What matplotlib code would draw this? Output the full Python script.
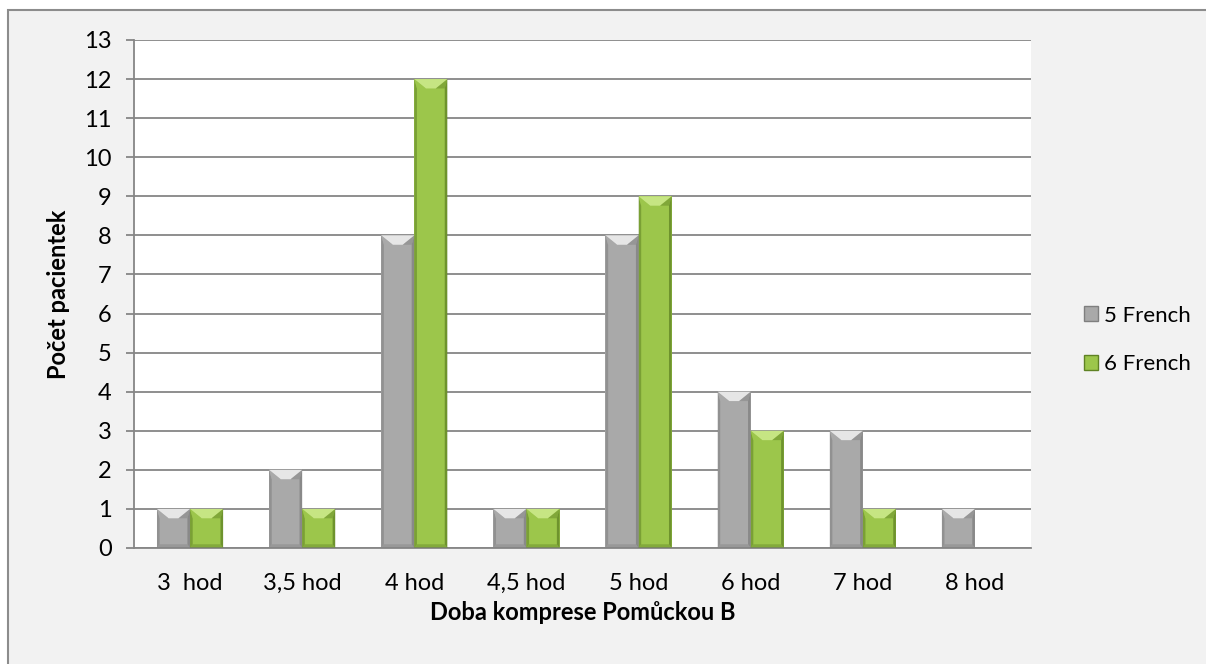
import matplotlib
matplotlib.use('Agg')
import matplotlib.pyplot as plt
from matplotlib.patches import Rectangle, Polygon
import numpy as np

# Data
categories = ['3  hod', '3,5 hod', '4 hod', '4,5 hod', '5 hod', '6 hod', '7 hod', '8 hod']
french5 = [1, 2, 8, 1, 8, 4, 3, 1]
french6 = [1, 1, 12, 1, 9, 3, 1, 0]
series_names = ['5 French', '6 French']

plt.rcParams['font.family'] = ['Lato', 'DejaVu Sans']

# Colours: base, light top, dark edge
grey = ('#a9a9a9', '#e6e6e6', '#7f7f7f')
green = ('#9cc64b', '#c6e583', '#5f8224')


def bevel_bar(ax, rect, colors):
    """Draws a bevel effect over a bar patch."""
    base, light, dark = colors
    x0 = rect.get_x()
    w = rect.get_width()
    h = rect.get_height()
    if h <= 0:
        return
    x1 = x0 + w
    dy = min(0.24, h * 0.3)
    dx = w * 0.35
    side = w * 0.08
    # side strips
    ax.add_patch(Polygon([(x0, 0), (x0 + side, dy * 0.4), (x0 + side, h - dy), (x0, h)],
                         closed=True, facecolor=dark, edgecolor='none', alpha=0.55, zorder=3))
    ax.add_patch(Polygon([(x1, 0), (x1 - side, dy * 0.4), (x1 - side, h - dy), (x1, h)],
                         closed=True, facecolor=dark, edgecolor='none', alpha=0.75, zorder=3))
    # bottom strip
    ax.add_patch(Polygon([(x0, 0), (x1, 0), (x1 - side, dy * 0.4), (x0 + side, dy * 0.4)],
                         closed=True, facecolor=dark, edgecolor='none', alpha=0.4, zorder=3))
    # top chevron
    ax.add_patch(Polygon([(x0, h), (x1, h), (x1 - dx, h - dy), (x0 + dx, h - dy)],
                         closed=True, facecolor=light, edgecolor='none', zorder=3))
    ax.add_patch(Polygon([(x0, h), (x0 + side, h - dy), (x0 + dx, h - dy)],
                         closed=True, facecolor=base, edgecolor='none', alpha=0.6, zorder=3))
    ax.add_patch(Polygon([(x1, h), (x1 - side, h - dy), (x1 - dx, h - dy)],
                         closed=True, facecolor=dark, edgecolor='none', alpha=0.45, zorder=3))


fig = plt.figure(figsize=(12.06, 6.64), dpi=100)
fig.patch.set_facecolor('white')
fig.patches.append(Rectangle((8 / 1206, -0.01), 1.02, 1 - 10 / 664 + 0.01,
                             transform=fig.transFigure, facecolor='#f2f2f2',
                             edgecolor='#8c8c8c', linewidth=1.5, zorder=-10))

ax = fig.add_axes([134 / 1206, 116 / 664, 897 / 1206, 508 / 664])
ax.set_facecolor('white')

x = np.arange(len(categories))
w = 0.295
bars5 = ax.bar(x - w / 2, french5, w, color=grey[0], zorder=2, label=series_names[0])
bars6 = ax.bar(x + w / 2, french6, w, color=green[0], zorder=2, label=series_names[1])

for r in bars5:
    bevel_bar(ax, r, grey)
for r in bars6:
    bevel_bar(ax, r, green)

ax.set_xlim(-0.5, len(categories) - 0.5)
ax.set_ylim(0, 13)
ax.set_yticks(range(0, 14))
ax.set_xticks(x)
ax.set_xticklabels(categories)
ax.yaxis.grid(True, color='#868686', linewidth=1.3, zorder=1)
ax.set_axisbelow(True)

for s in ['top', 'right']:
    ax.spines[s].set_visible(False)
ax.spines['left'].set_color('#868686')
ax.spines['bottom'].set_color('#868686')
ax.spines['left'].set_linewidth(1.3)
ax.spines['bottom'].set_linewidth(1.3)
ax.tick_params(axis='y', length=6, color='#868686', width=1.3, labelsize=17, pad=10)
ax.tick_params(axis='x', length=0, labelsize=17, pad=18)

ax.set_ylabel('Počet pacientek', fontsize=17, fontweight='bold', labelpad=10)
ax.set_xlabel('Doba komprese Pomůckou B', fontsize=17, fontweight='bold', labelpad=5)

# Legend
handles = [Rectangle((0, 0), 1, 1, facecolor=grey[0], edgecolor=grey[2], linewidth=1),
           Rectangle((0, 0), 1, 1, facecolor=green[0], edgecolor=green[2], linewidth=1)]
fig.legend(handles, series_names, loc='center left', bbox_to_anchor=(1064 / 1206, 1 - 340 / 664),
           frameon=False, fontsize=16, handlelength=0.65, handleheight=0.65,
           handletextpad=0.25, labelspacing=1.3)

fig.savefig('out.png', dpi=100, facecolor=fig.get_facecolor())
